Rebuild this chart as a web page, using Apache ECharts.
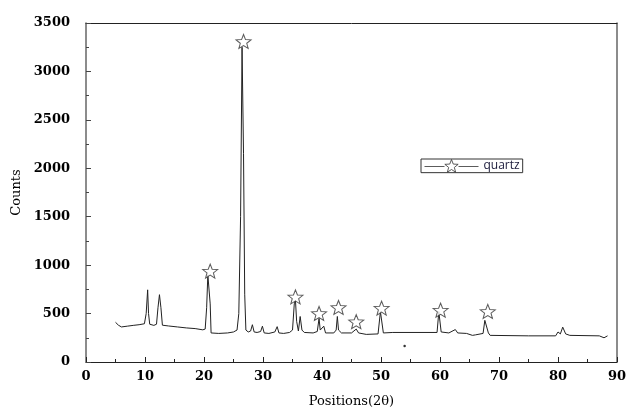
<!DOCTYPE html>
<html>
<head>
<meta charset="utf-8">
<script src="https://cdn.jsdelivr.net/npm/echarts@6/dist/echarts.min.js"></script>
<style>html,body{margin:0;padding:0;background:#fff}#c{width:633px;height:413px}</style>
</head>
<body>
<div id="c"></div>
<script>
// XRD pattern (2θ, counts)
var twoTheta = [5.0,5.5,6.0,7.0,8.0,9.0,9.9,10.2,10.45,10.6,10.8,11.5,11.95,12.2,12.45,12.7,12.95,14.0,15.5,17.0,18.5,19.8,20.2,20.45,20.65,20.9,21.05,21.2,22.5,24.0,25.0,25.6,25.9,26.2,26.45,26.7,26.9,27.1,27.5,27.9,28.2,28.5,29.0,29.6,29.9,30.2,31.0,32.0,32.4,32.7,33.5,34.5,35.0,35.3,35.5,35.7,36.0,36.3,36.6,37.0,38.5,39.2,39.5,39.7,40.0,40.3,40.6,42.0,42.4,42.6,42.8,43.3,45.0,45.8,46.2,47.5,49.5,49.9,50.2,50.4,52.0,59.5,59.8,60.0,60.2,61.5,62.6,63.0,64.5,65.5,66.0,67.3,67.6,67.9,68.2,68.5,75.0,79.6,80.0,80.4,80.8,81.3,82.0,87.0,87.8,88.4];
var counts   = [410,380,362,370,378,385,395,500,745,500,390,378,390,560,695,560,380,372,362,352,345,332,340,560,900,880,600,300,295,300,310,330,500,1500,3250,2150,700,330,310,320,385,310,305,315,370,300,295,310,365,300,295,305,330,600,640,420,320,470,330,305,300,315,450,330,310,370,300,300,330,470,330,300,300,340,300,285,290,520,520,300,305,305,520,540,310,300,335,300,295,275,280,295,430,440,300,275,270,270,310,290,360,290,275,270,250,270];
// quartz peak markers
var quartzX = [21.05,26.7,35.5,39.5,42.8,45.8,50.1,60.1,68.1];
var quartzY = [938,3309,672,501,563,416,556,535,522];
// stray dot
var dotX = [54.0];
var dotY = [164];

var lineData = twoTheta.map(function(x,i){return [x,counts[i]];});
var starData = quartzX.map(function(x,i){return [x,quartzY[i]];});
var dotData = dotX.map(function(x,i){return [x,dotY[i]];});

var starPath = 'path://M7,0 L8.76,4.57 L13.66,4.84 L9.85,7.93 L11.11,12.66 L7,10 L2.89,12.66 L4.15,7.93 L0.34,4.84 L5.24,4.57 Z';
var legendPath = 'path://M0,7 L20,7 M34,7 L54,7 M27,0 L28.76,4.57 L33.66,4.84 L29.85,7.93 L31.11,12.66 L27,10 L22.89,12.66 L24.15,7.93 L20.34,4.84 L25.24,4.57 Z';

var numFont = {fontFamily:'DejaVu Serif', fontWeight:'bold', fontSize:13, color:'#000'};
var chart = echarts.init(document.getElementById('c'), null, {renderer:'canvas'});
chart.setOption({
  animation:false,
  backgroundColor:'#fff',
  grid:{left:86, right:16, top:23, bottom:48},
  legend:{
    data:[{name:'quartz', icon:legendPath}],
    left:421, top:159, orient:'horizontal',
    padding:[0,3,0,3],
    borderColor:'#333', borderWidth:1,
    itemWidth:54, itemHeight:14, itemGap:4,
    itemStyle:{color:'#fff', borderColor:'#333', borderWidth:1},
    textStyle:{fontFamily:'Open Sans', fontSize:12, color:'#1a1a3a', padding:[0,0,0,0]}
  },
  xAxis:[{
    type:'value', min:0, max:90, interval:10,
    name:'Positions(2θ)', nameLocation:'middle', nameGap:33,
    nameTextStyle:{fontFamily:'DejaVu Serif', fontSize:13, color:'#000'},
    axisLine:{show:true, onZero:false, lineStyle:{color:'#222', width:1}},
    axisTick:{show:true, inside:true, length:5, lineStyle:{color:'#222'}},
    minorTick:{show:true, splitNumber:2, length:3, lineStyle:{color:'#222'}},
    axisLabel:Object.assign({margin:8}, numFont),
    splitLine:{show:false}
  },{
    type:'value', position:'top', min:0, max:90,
    axisLine:{show:true, onZero:false, lineStyle:{color:'#222', width:1}},
    axisTick:{show:false}, axisLabel:{show:false}, splitLine:{show:false}
  }],
  yAxis:[{
    type:'value', min:0, max:3500, interval:500,
    name:'Counts', nameLocation:'middle', nameGap:52,
    nameTextStyle:{fontFamily:'DejaVu Serif', fontSize:13, color:'#000'},
    axisLine:{show:true, onZero:false, lineStyle:{color:'#666', width:1.5}},
    axisTick:{show:true, inside:true, length:5, lineStyle:{color:'#444'}},
    minorTick:{show:true, splitNumber:2, length:3, lineStyle:{color:'#444'}},
    axisLabel:Object.assign({margin:16, formatter:function(v){return String(v);}}, numFont),
    splitLine:{show:false}
  },{
    type:'value', position:'right', min:0, max:3500,
    axisLine:{show:true, onZero:false, lineStyle:{color:'#666', width:1.5}},
    axisTick:{show:false}, axisLabel:{show:false}, splitLine:{show:false}
  }],
  series:[{
    name:'data', type:'line', data:lineData, showSymbol:false, symbol:'none',
    lineStyle:{color:'#222', width:1}, z:2
  },{
    name:'quartz', type:'scatter', data:starData, symbol:starPath, symbolSize:[15,14],
    itemStyle:{color:'#fff', borderColor:'#333', borderWidth:1}, z:3
  },{
    name:'dot', type:'scatter', data:dotData, symbol:'circle', symbolSize:2.5,
    itemStyle:{color:'#000'}, z:3
  }]
});
</script>
</body>
</html>
